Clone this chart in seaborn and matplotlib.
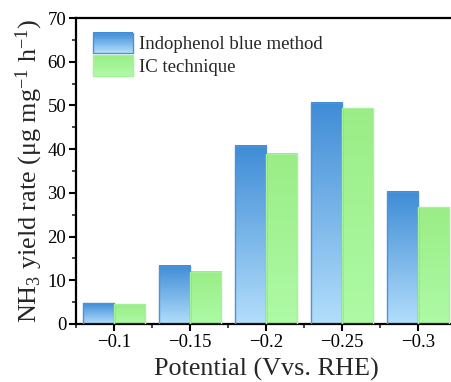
import numpy as np
import pandas as pd
import matplotlib
matplotlib.use("Agg")
import matplotlib.pyplot as plt
import seaborn as sns
from matplotlib.colors import LinearSegmentedColormap
from matplotlib.patches import Rectangle
from matplotlib.legend_handler import HandlerBase
from matplotlib.ticker import MultipleLocator

categories = ["\u22120.1", "\u22120.15", "\u22120.2", "\u22120.25", "\u22120.3"]
indophenol = [4.8, 13.3, 40.8, 50.6, 30.2]
ic_tech = [4.5, 12.0, 39.0, 49.3, 26.7]
series_names = ["Indophenol blue method", "IC technique"]

df = pd.DataFrame({
    "Potential": categories * 2,
    "Rate": indophenol + ic_tech,
    "Method": [series_names[0]] * len(categories) + [series_names[1]] * len(categories),
})

sns.set_theme(style="ticks")
plt.rcParams["font.family"] = ["Liberation Serif", "DejaVu Serif"]
plt.rcParams["mathtext.fontset"] = "custom"
plt.rcParams["mathtext.rm"] = "Liberation Serif"
plt.rcParams["mathtext.it"] = "Liberation Serif:italic"
plt.rcParams["mathtext.default"] = "regular"

grads = {
    series_names[0]: ("#b3defb", "#3f8cd6"),
    series_names[1]: ("#aefaa6", "#9aed86"),
}
edges = {series_names[0]: "#4a93da", series_names[1]: "#a4f29a"}

fig = plt.figure(figsize=(4.51, 3.82), dpi=100)
ax = fig.add_axes([76 / 451, 58 / 382, 380 / 451, 306 / 382])

sns.barplot(data=df, x="Potential", y="Rate", hue="Method", order=categories,
            hue_order=series_names, width=0.82, ax=ax, legend=False,
            palette=["#4a93da", "#a4f29a"], saturation=1)

for cont, name in zip(ax.containers, series_names):
    lo, hi = grads[name]
    cmap = LinearSegmentedColormap.from_list(name, [lo, hi])
    grad = np.linspace(0, 1, 256).reshape(-1, 1)
    for bar in cont:
        x0, y0 = bar.get_x(), bar.get_y()
        w, h = bar.get_width(), bar.get_height()
        ax.imshow(grad, extent=[x0, x0 + w, y0, y0 + h], origin="lower",
                  aspect="auto", cmap=cmap, zorder=2, interpolation="bilinear")
        bar.set_facecolor("none")
        bar.set_edgecolor(edges[name])
        bar.set_linewidth(1.0)
        bar.set_zorder(3)

ax.set_xlim(-0.5, len(categories) - 0.5)
ax.set_ylim(0, 70)
ax.yaxis.set_major_locator(MultipleLocator(10))
ax.yaxis.set_minor_locator(MultipleLocator(5))
ax.xaxis.set_minor_locator(MultipleLocator(1, offset=0.5))

for s in ax.spines.values():
    s.set_linewidth(1.6)
    s.set_color("black")
ax.spines["right"].set_visible(False)
ax.tick_params(axis="both", which="major", direction="out", length=5, width=1.5,
               labelsize=13.5, colors="black", pad=2)
ax.tick_params(axis="both", which="minor", direction="out", length=3, width=1.2)

ax.set_xlabel("Potential (Vvs. RHE)", fontsize=18.8, labelpad=5)
ax.set_ylabel("NH$_3$ yield rate (\u03bcg mg$^{-1}$ h$^{-1}$)", fontsize=18.8, labelpad=2)


class GradHandler(HandlerBase):
    def __init__(self, lo, hi, edge):
        super().__init__()
        self.cmap = LinearSegmentedColormap.from_list("h", [lo, hi])
        self.edge = edge

    def create_artists(self, legend, orig_handle, xdescent, ydescent, width, height,
                       fontsize, trans):
        arts = []
        n = 24
        for i in range(n):
            r = Rectangle((-xdescent, -ydescent + height * i / n), width, height / n + 0.3,
                          facecolor=self.cmap(i / (n - 1)), edgecolor="none",
                          transform=trans)
            arts.append(r)
        arts.append(Rectangle((-xdescent, -ydescent), width, height, facecolor="none",
                              edgecolor=self.edge, lw=1.0, transform=trans))
        return arts


h1 = Rectangle((0, 0), 1, 1)
h2 = Rectangle((0, 0), 1, 1)
ax.legend([h1, h2], series_names,
          handler_map={h1: GradHandler(*grads[series_names[0]], edges[series_names[0]]),
                       h2: GradHandler(*grads[series_names[1]], edges[series_names[1]])},
          frameon=False, fontsize=13.5, handlelength=2.15, handleheight=1.3,
          handletextpad=0.3, labelspacing=0.12, loc="upper left",
          bbox_to_anchor=(0.01, 0.995), borderaxespad=0.3)

fig.savefig("out.png", dpi=100)
